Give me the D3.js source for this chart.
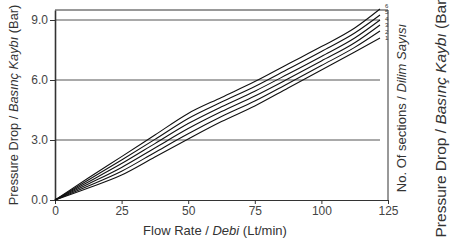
<!DOCTYPE html>
<html>
<head>
<meta charset="utf-8">
<script src="https://cdn.jsdelivr.net/npm/d3@7"></script>
<style>
  body { margin: 0; background: #fff; }
  svg { display: block; font-family: "Liberation Sans", Arial, sans-serif; }
  .axis text { fill: #444; font-size: 12px; }
  .axis path, .axis line { stroke: #333; }
</style>
</head>
<body>
<svg width="452" height="243"></svg>
<script>
// flow rate (Lt/min) where the curves were read
var flows = [0, 12.5, 25, 37.5, 50, 62.5, 75, 87.5, 100, 112.5, 122];

// pressure drop (bar) per number of sections
var sec1 = [0, 0.60, 1.25, 2.15, 3.05, 3.92, 4.70, 5.60, 6.50, 7.40, 8.10];
var sec2 = [0, 0.70, 1.44, 2.38, 3.31, 4.17, 4.95, 5.83, 6.72, 7.63, 8.45];
var sec3 = [0, 0.80, 1.63, 2.60, 3.57, 4.42, 5.20, 6.06, 6.95, 7.86, 8.75];
var sec4 = [0, 0.90, 1.82, 2.82, 3.82, 4.66, 5.44, 6.30, 7.18, 8.10, 9.00];
var sec5 = [0, 1.00, 2.00, 3.03, 4.08, 4.90, 5.68, 6.55, 7.43, 8.35, 9.25];
var sec6 = [0, 1.10, 2.17, 3.25, 4.33, 5.13, 5.92, 6.80, 7.67, 8.60, 9.55];

var series = [sec1, sec2, sec3, sec4, sec5, sec6];
var seriesNames = ["1", "2", "3", "4", "5", "6"];

var xTicks = [0, 25, 50, 75, 100, 125];
var yTicks = [0, 3, 6, 9];

var svg = d3.select("svg");
var margin = {top: 10, right: 64, bottom: 43, left: 55};
var width = +svg.attr("width") - margin.left - margin.right,
    height = +svg.attr("height") - margin.top - margin.bottom;

var g = svg.append("g")
    .attr("transform", "translate(" + margin.left + "," + margin.top + ")");

var x = d3.scaleLinear()
    .domain([0, 125])
    .range([0, width]);

var y = d3.scaleLinear()
    .domain([0, 9.5])
    .range([height, 0]);

// horizontal grid lines
g.append("g")
    .selectAll("line")
    .data(yTicks.filter(function(d) { return d > 0; }))
  .enter().append("line")
    .attr("x1", 0)
    .attr("x2", x(122))
    .attr("y1", function(d) { return y(d); })
    .attr("y2", function(d) { return y(d); })
    .attr("stroke", "#555")
    .attr("stroke-width", 1);

// frame: top and right
g.append("line")
    .attr("x1", 0).attr("x2", width)
    .attr("y1", 0).attr("y2", 0)
    .attr("stroke", "#333");
g.append("line")
    .attr("x1", width).attr("x2", width)
    .attr("y1", 0).attr("y2", height)
    .attr("stroke", "#333");

g.append("g")
    .attr("class", "axis axis--x")
    .attr("transform", "translate(0," + height + ")")
    .call(d3.axisBottom(x).tickValues(xTicks).tickSize(4).tickSizeOuter(0).tickPadding(2));

g.append("g")
    .attr("class", "axis axis--y")
    .call(d3.axisLeft(y).tickValues(yTicks).tickSize(5).tickSizeOuter(0)
          .tickPadding(2).tickFormat(d3.format(".1f")))
    .select(".domain")
    .attr("stroke-width", 1.6);

var line = d3.line()
    .x(function(d, i) { return x(flows[i]); })
    .y(function(d) { return y(d); })
    .curve(d3.curveMonotoneX);

g.append("g")
    .selectAll("path")
    .data(series)
  .enter().append("path")
    .attr("d", line)
    .attr("fill", "none")
    .attr("stroke", "#111")
    .attr("stroke-width", 1.1);

// section count labels stacked at the end of the curves (1 lowest)
g.append("g")
    .selectAll("text")
    .data(series)
  .enter().append("text")
    .attr("x", x(124.5))
    .attr("y", function(d, i) { return y(sec1[sec1.length - 1]) + 2 - i * 6.5; })
    .attr("text-anchor", "middle")
    .attr("font-size", "6px")
    .attr("fill", "#333")
    .text(function(d, i) { return seriesNames[i]; });

// axis titles
var xt = svg.append("text")
    .attr("x", 215)
    .attr("y", 235)
    .attr("text-anchor", "middle")
    .attr("font-size", "13px")
    .attr("fill", "#333");
xt.append("tspan").text("Flow Rate / ");
xt.append("tspan").attr("font-style", "italic").text("Debi");
xt.append("tspan").text(" (Lt/min)");

function vTitle(cx, cy, size, a, b, c) {
    var t = svg.append("text")
        .attr("transform", "translate(" + cx + "," + cy + ") rotate(-90)")
        .attr("text-anchor", "middle")
        .attr("font-size", size)
        .attr("fill", "#333");
    t.append("tspan").text(a);
    t.append("tspan").attr("font-style", "italic").text(b);
    if (c) t.append("tspan").text(c);
}

vTitle(17.5, 105, "12.8px", "Pressure Drop / ", "Basınç Kaybı", " (Bar)");
vTitle(405.5, 108, "13px", "No. Of sections / ", "Dilim Sayısı", null);
vTitle(445.5, 116, "15.5px", "Pressure Drop / ", "Basınç Kaybı", " (Bar)");
</script>
</body>
</html>
